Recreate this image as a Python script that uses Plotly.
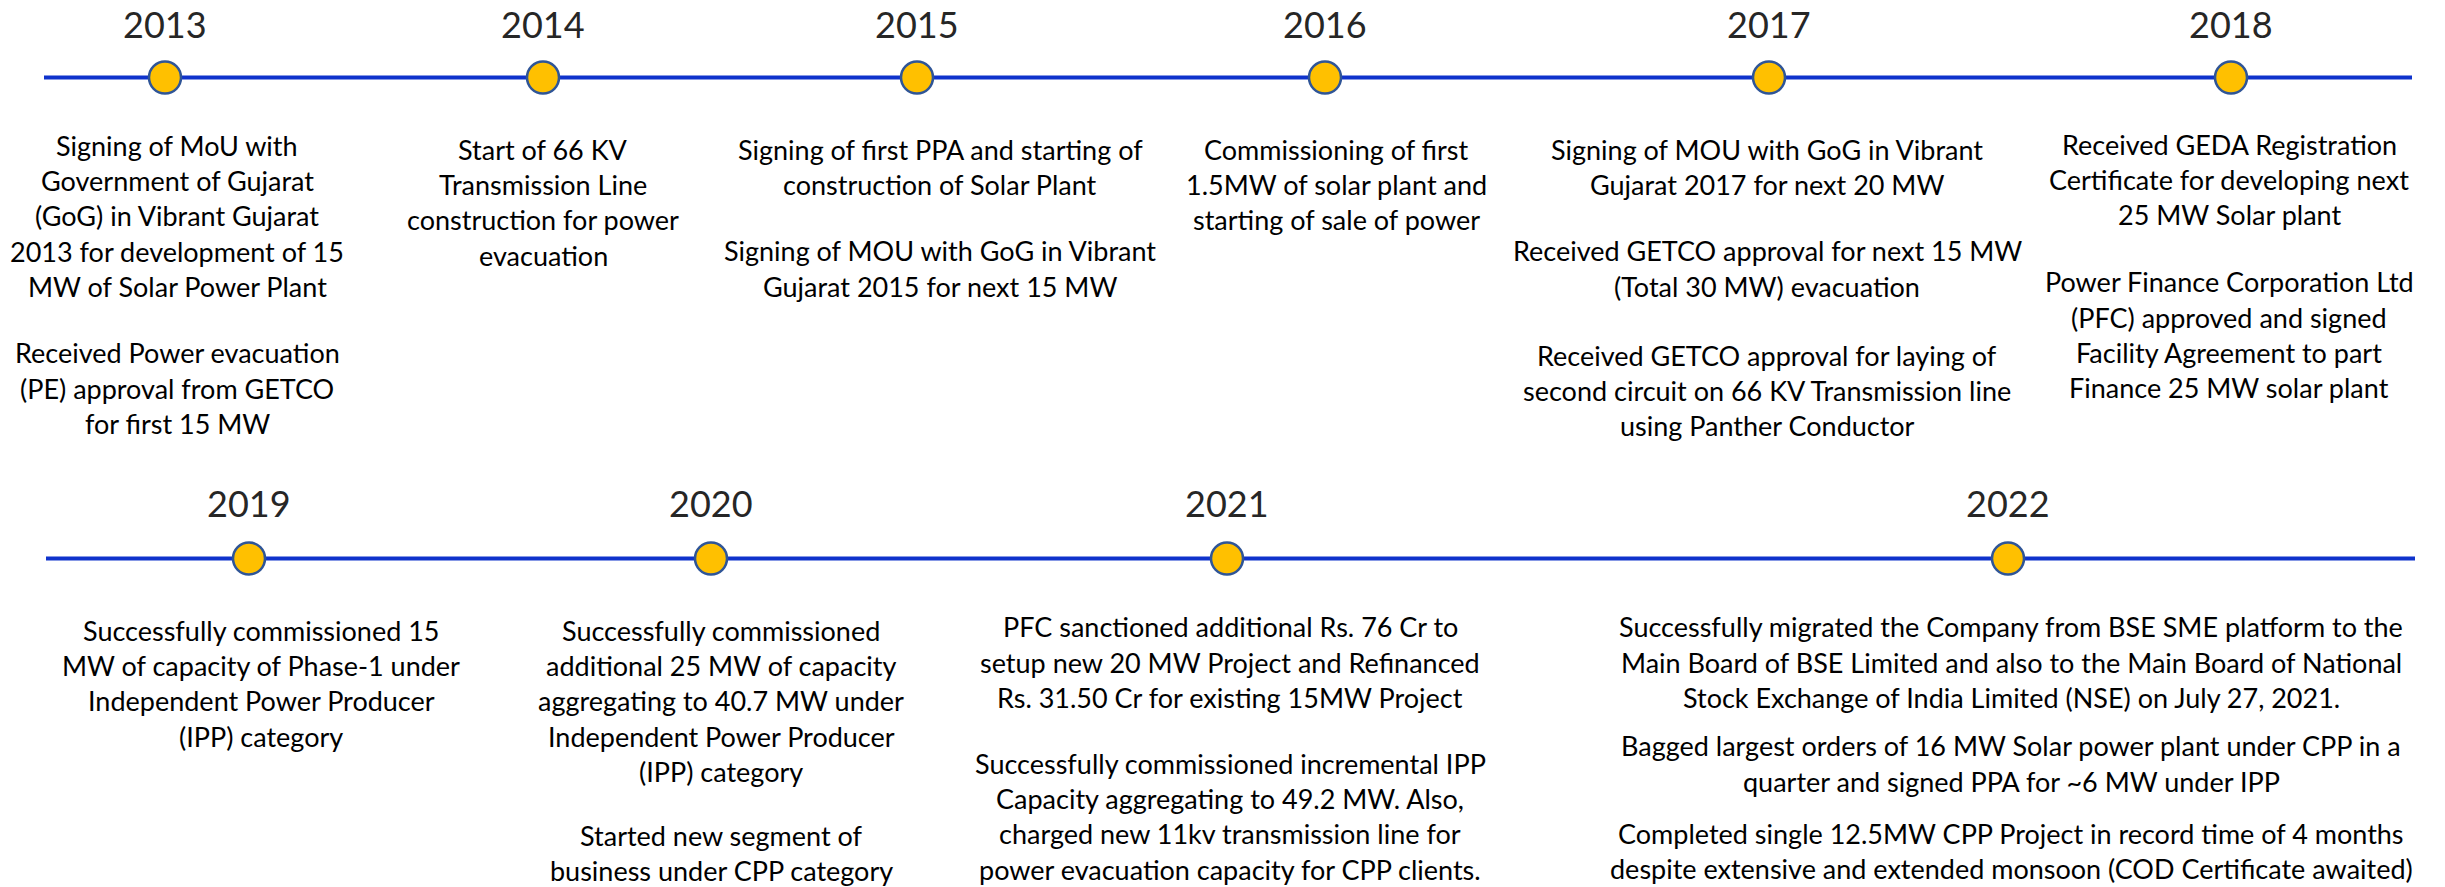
import plotly.graph_objects as go

# ---------------- data ----------------
top_years = ["2013", "2014", "2015", "2016", "2017", "2018"]
top_events = [
    [["Signing of MoU with", "Government of Gujarat", "(GoG) in Vibrant Gujarat",
      "2013 for development of 15", "MW of Solar Power Plant"],
     ["Received Power evacuation", "(PE) approval from GETCO", "for first 15 MW"]],
    [["Start of 66 KV", "Transmission Line", "construction for power", "evacuation"]],
    [["Signing of first PPA and starting of", "construction of Solar Plant"],
     ["Signing of MOU with GoG in Vibrant", "Gujarat 2015 for next 15 MW"]],
    [["Commissioning of first", "1.5MW of solar plant and", "starting of sale of power"]],
    [["Signing of MOU with GoG in Vibrant", "Gujarat 2017 for next 20 MW"],
     ["Received GETCO approval for next 15 MW", "(Total 30 MW) evacuation"],
     ["Received GETCO approval for laying of", "second circuit on 66 KV Transmission line",
      "using Panther Conductor"]],
    [["Received GEDA Registration", "Certificate for developing next", "25 MW Solar plant"],
     ["Power Finance Corporation Ltd", "(PFC) approved and signed",
      "Facility Agreement to part", "Finance 25 MW solar plant"]],
]

bottom_years = ["2019", "2020", "2021", "2022"]
bottom_events = [
    [["Successfully commissioned 15", "MW of capacity of Phase-1 under",
      "Independent Power Producer", "(IPP) category"]],
    [["Successfully commissioned", "additional 25 MW of capacity",
      "aggregating to 40.7 MW under", "Independent Power Producer", "(IPP) category"],
     ["Started new segment of", "business under CPP category"]],
    [["PFC sanctioned additional Rs. 76 Cr to", "setup new 20 MW Project and Refinanced",
      "Rs. 31.50 Cr for existing 15MW Project"],
     ["Successfully commissioned incremental IPP", "Capacity aggregating to 49.2 MW. Also,",
      "charged new 11kv transmission line for", "power evacuation capacity for CPP clients."]],
    [["Successfully migrated the Company from BSE SME platform to the",
      "Main Board of BSE Limited and also to the Main Board of National",
      "Stock Exchange of India Limited (NSE) on July 27, 2021."],
     ["Bagged largest orders of 16 MW Solar power plant under CPP in a",
      "quarter and signed PPA for ~6 MW under IPP"],
     ["Completed single 12.5MW CPP Project in record time of 4 months",
      "despite extensive and extended monsoon (COD Certificate awaited)"]],
]

# ---------------- layout (pixel positions) ----------------
W, H = 2445, 887
FONT = "Lato, Carlito, Calibri, sans-serif"
LINE_H = 35.4
TEXT_SIZE = 27
YEAR_SIZE = 36
LINE_COLOR = "#0F33CC"
DOT_FILL = "#FFC000"
DOT_EDGE = "#2F5597"

rows = [
    dict(years=top_years, events=top_events, line_y=77.5, x0=44, x1=2412, year_y=24,
         dot_x=[165, 543, 917, 1325, 1769, 2231],
         text_x=[177, 543, 940, 1336, 1767, 2229],
         para_y=[[145, 352.7], [149], [149, 250.7], [149], [149, 250.7, 355], [144, 281.7]]),
    dict(years=bottom_years, events=bottom_events, line_y=558.5, x0=46, x1=2415, year_y=503,
         dot_x=[249, 711, 1227, 2008],
         text_x=[261, 721, 1230, 2011],
         para_y=[[630], [630, 835], [626.7, 763], [626.7, 745.7, 833.5]]),
]

fig = go.Figure()
annotations = []

for r in rows:
    fig.add_trace(go.Scatter(x=[r["x0"], r["x1"]], y=[r["line_y"], r["line_y"]], mode="lines",
                             line=dict(color=LINE_COLOR, width=4), hoverinfo="skip",
                             showlegend=False))
    fig.add_trace(go.Scatter(x=r["dot_x"], y=[r["line_y"]] * len(r["dot_x"]), mode="markers",
                             marker=dict(size=32, color=DOT_FILL,
                                         line=dict(color=DOT_EDGE, width=2.5)),
                             text=r["years"], hoverinfo="text", showlegend=False))
    for i, yr in enumerate(r["years"]):
        annotations.append(dict(x=r["dot_x"][i], y=r["year_y"], text=yr, showarrow=False,
                                xanchor="center", yanchor="middle",
                                font=dict(family=FONT, size=YEAR_SIZE, color="#262626")))
        for p, para in enumerate(r["events"][i]):
            y0 = r["para_y"][i][p]
            for k, line in enumerate(para):
                annotations.append(dict(x=r["text_x"][i], y=y0 + k * LINE_H, text=line,
                                        showarrow=False, xanchor="center", yanchor="middle",
                                        borderpad=0,
                                        font=dict(family=FONT, size=TEXT_SIZE, color="#000000")))

fig.update_layout(
    width=W, height=H,
    margin=dict(l=0, r=0, t=0, b=0),
    paper_bgcolor="white", plot_bgcolor="white",
    xaxis=dict(range=[0, W], visible=False, fixedrange=True),
    yaxis=dict(range=[H, 0], visible=False, fixedrange=True),
    annotations=annotations,
)

fig.write_html("out.html", config={"displayModeBar": False},
               post_script="document.body.style.margin='0';document.body.style.overflow='hidden';")
